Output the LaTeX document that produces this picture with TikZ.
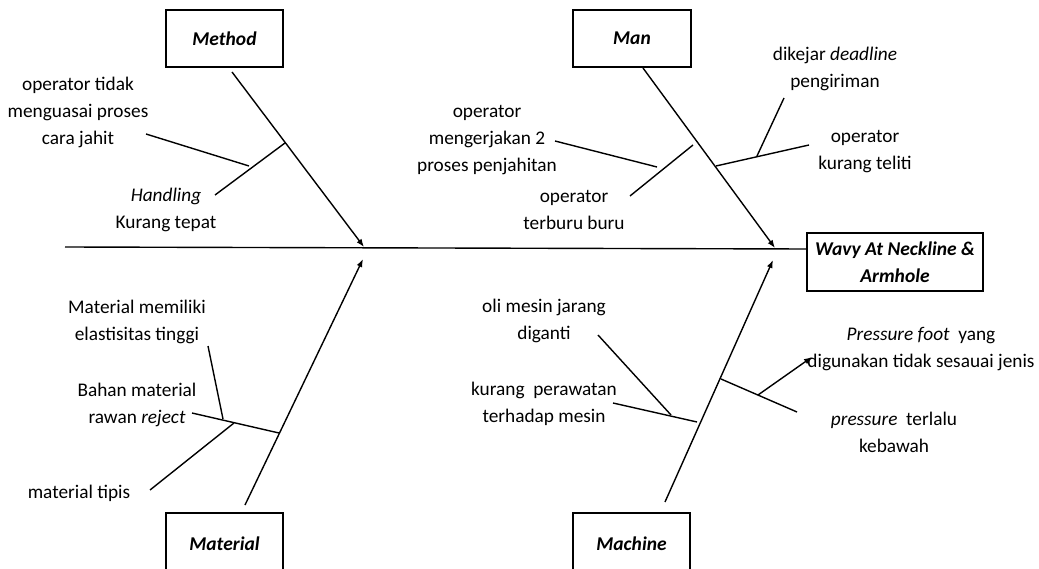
\documentclass[tikz,border=0pt]{standalone}
\usepackage{fontspec}
\setmainfont{Carlito}
\usetikzlibrary{arrows.meta}
\tikzset{
  lbl/.style={align=center, inner sep=0pt, font=\fontsize{19.3}{27}\selectfont},
  catbox/.style={draw, line width=1.6pt, minimum width=117pt, minimum height=57pt, inner sep=0pt, font=\fontsize{19.5}{27.5}\selectfont\bfseries\itshape, align=center},
  bone/.style={line width=1.4pt},
  arr/.style={line width=1.4pt, -{Latex[length=8pt,width=6pt]}},
}
\begin{document}
\begin{tikzpicture}[x=1pt,y=-1pt]
\useasboundingbox (0,0) rectangle (1039,569);
\clip (0,0) rectangle (1039,569);
% boxes
\node[catbox] (method) at (224.5,38.5) {\raisebox{-2pt}{Method}};
\node[catbox, minimum width=118pt] (man) at (632,38.5) {\raisebox{-2pt}{Man}};
\node[catbox, minimum height=66pt] (material) at (224.5,546) {\raisebox{4pt}{Material}};
\node[catbox, minimum height=66pt] (machine) at (631.5,546) {\raisebox{4pt}{Machine}};
\node[catbox, minimum width=176pt, minimum height=58pt] (effect) at (895,262) {Wavy At Neckline \&\\Armhole};
% main spine
\coordinate (hl) at (65,247);
\coordinate (hr) at (807,249);
\draw[bone] (hl) -- (hr);
% category spines
\coordinate (methodS) at (232,72);  \coordinate (methodT) at (364,247);
\coordinate (manS) at (643,68);     \coordinate (manT) at (775,248);
\coordinate (matS) at (245,505);    \coordinate (matT) at (363,259);
\coordinate (macS) at (665,502);    \coordinate (macT) at (773,260);
\draw[arr] (methodS) -- (methodT);
\draw[arr] (manS) -- (manT);
\draw[arr] (matS) -- (matT);
\draw[arr] (macS) -- (macT);
% ---- Method causes
\node[lbl] (mt1) at (78,112) {operator tidak\\menguasai proses\\cara jahit};
\node[lbl] (mt2) at (166,210) {\textit{Handling}\\Kurang tepat};
\coordinate (mb1) at (285,143); \coordinate (mb1e) at (215,195);
\coordinate (mb2s) at (146,134); \coordinate (mb2e) at (249,166);
\draw[bone] (mb1) -- (mb1e);
\draw[bone] (mb2s) -- (mb2e);
% ---- Man causes
\node[lbl] (nt1) at (487,140) {operator\\mengerjakan 2\\proses penjahitan};
\node[lbl] (nt2) at (574,210) {operator\\terburu buru};
\node[lbl] (nt3) at (835,69) {dikejar \textit{deadline}\\pengiriman};
\node[lbl] (nt4) at (865,152) {operator\\kurang teliti};
\coordinate (nb1) at (693,145); \coordinate (nb1e) at (630,196);
\coordinate (nb2s) at (555,141); \coordinate (nb2e) at (657,167);
\coordinate (nb3) at (716,166); \coordinate (nb3e) at (809,145);
\coordinate (nb4s) at (757,156); \coordinate (nb4e) at (784,98);
\draw[bone] (nb1) -- (nb1e);
\draw[bone] (nb2s) -- (nb2e);
\draw[bone] (nb3) -- (nb3e);
\draw[bone] (nb4s) -- (nb4e);
% ---- Material causes
\node[lbl] (at1) at (137,322) {Material memiliki\\elastisitas tinggi};
\node[lbl] (at2) at (137,405) {Bahan material\\rawan \textit{reject}};
\node[lbl] (at3) at (79,493) {material tipis};
\coordinate (ab1) at (279,433); \coordinate (ab1e) at (192,413);
\coordinate (ab2s) at (208,346); \coordinate (ab2e) at (223,419);
\coordinate (ab3s) at (150,490); \coordinate (ab3e) at (234,423);
\draw[bone] (ab1) -- (ab1e);
\draw[bone] (ab2s) -- (ab2e);
\draw[bone] (ab3s) -- (ab3e);
% ---- Machine causes
\node[lbl] (ct1) at (544,321) {oli mesin jarang\\diganti};
\node[lbl] (ct2) at (544,404) {kurang~~perawatan\\terhadap mesin};
\node[lbl] (ct3) at (921,349) {\textit{Pressure foot}~~yang\\digunakan tidak sesauai jenis};
\node[lbl] (ct4) at (894,432) {\textit{pressure}~~terlalu\\kebawah};
\coordinate (cb1) at (697,422); \coordinate (cb1e) at (613,403);
\coordinate (cb2s) at (598,335); \coordinate (cb2e) at (671,415);
\coordinate (cb3) at (721,379); \coordinate (cb3e) at (797,412);
\coordinate (cb4s) at (758,395); \coordinate (cb4e) at (812,357);
\draw[bone] (cb1) -- (cb1e);
\draw[bone] (cb2s) -- (cb2e);
\draw[bone] (cb3) -- (cb3e);
\draw[arr] (cb4s) -- (cb4e);
\end{tikzpicture}
\end{document}
